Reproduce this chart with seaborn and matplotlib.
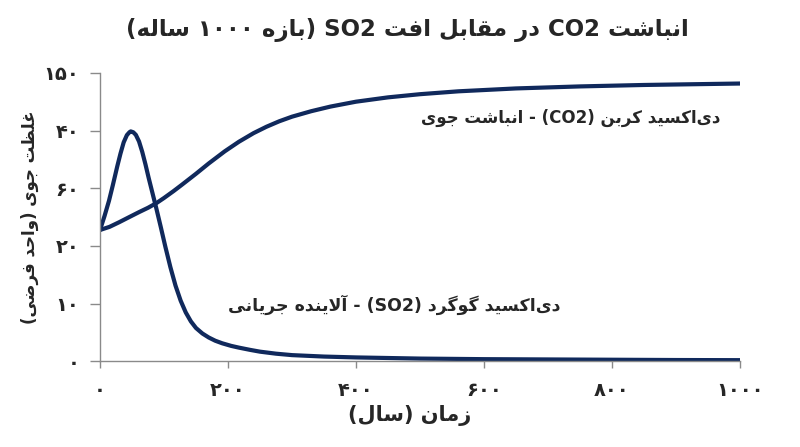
import matplotlib
matplotlib.use('Agg')
import matplotlib.pyplot as plt
import seaborn as sns

# داده‌ها (خوانده شده از روی نمودار)
co2_years = [0, 15, 30, 45, 61, 75, 88, 100, 115, 128, 150, 170, 195, 217, 240,
             260, 280, 300, 330, 360, 400, 450, 500, 560, 650, 750, 850, 1000]
co2_values = [45.5, 46.6, 48.2, 49.9, 51.7, 53.2, 54.8, 56.6, 59.0, 61.2, 65.0,
              68.6, 72.8, 76.1, 79.1, 81.3, 83.2, 84.8, 86.7, 88.3, 90.0, 91.5,
              92.6, 93.6, 94.6, 95.3, 95.8, 96.3]

so2_years = [0, 7, 14, 20, 27, 32, 37, 42, 46, 48, 52, 56, 61, 66, 71, 76, 82,
             88, 95, 102, 110, 118, 126, 134, 142, 150, 160, 170, 180, 191, 205,
             217, 235, 250, 275, 300, 350, 400, 500, 600, 700, 800, 900, 1000]
so2_values = [45.5, 50.3, 55.6, 61.0, 67.6, 72.0, 75.9, 78.4, 79.4, 79.7, 79.4,
              78.5, 76.2, 72.6, 68.3, 63.6, 58.3, 53.0, 46.5, 39.8, 32.6, 26.2,
              21.0, 16.9, 13.8, 11.5, 9.6, 8.2, 7.1, 6.2, 5.3, 4.7, 3.9, 3.3, 2.6,
              2.1, 1.6, 1.3, 0.9, 0.7, 0.6, 0.5, 0.4, 0.35]

x_ticks = [0, 200, 400, 600, 800, 1000]
x_tick_labels = ['۰', '۲۰۰', '۴۰۰', '۶۰۰', '۸۰۰', '۱۰۰۰']
y_ticks = [0, 20, 40, 60, 80, 100]
y_tick_labels = ['۰', '۱۰', '۲۰', '۶۰', '۴۰', '۱۵۰']

title_text = 'انباشت CO2 در مقابل افت SO2 (بازه ۱۰۰۰ ساله)'
x_label = 'زمان (سال)'
y_label = 'غلظت جوی (واحد فرضی)'
co2_label = 'دی\u200cاکسید کربن (CO2) - انباشت جوی'
so2_label = 'دی\u200cاکسید گوگرد (SO2) - آلاینده جریانی'

# شکل‌دهی حروف فارسی (matplotlib خودش این کار را نمی‌کند)
FORMS = {
    'آ': (0xFE81, 0xFE82), 'ا': (0xFE8D, 0xFE8E),
    'ب': (0xFE8F, 0xFE90, 0xFE91, 0xFE92), 'پ': (0xFB56, 0xFB57, 0xFB58, 0xFB59),
    'ت': (0xFE95, 0xFE96, 0xFE97, 0xFE98), 'ج': (0xFE9D, 0xFE9E, 0xFE9F, 0xFEA0),
    'ح': (0xFEA1, 0xFEA2, 0xFEA3, 0xFEA4), 'د': (0xFEA9, 0xFEAA),
    'ر': (0xFEAD, 0xFEAE), 'ز': (0xFEAF, 0xFEB0),
    'س': (0xFEB1, 0xFEB2, 0xFEB3, 0xFEB4), 'ش': (0xFEB5, 0xFEB6, 0xFEB7, 0xFEB8),
    'ض': (0xFEBD, 0xFEBE, 0xFEBF, 0xFEC0), 'ظ': (0xFEC5, 0xFEC6, 0xFEC7, 0xFEC8),
    'غ': (0xFECD, 0xFECE, 0xFECF, 0xFED0), 'ف': (0xFED1, 0xFED2, 0xFED3, 0xFED4),
    'ق': (0xFED5, 0xFED6, 0xFED7, 0xFED8), 'ک': (0xFB8E, 0xFB8F, 0xFB90, 0xFB91),
    'گ': (0xFB92, 0xFB93, 0xFB94, 0xFB95), 'ل': (0xFEDD, 0xFEDE, 0xFEDF, 0xFEE0),
    'م': (0xFEE1, 0xFEE2, 0xFEE3, 0xFEE4), 'ن': (0xFEE5, 0xFEE6, 0xFEE7, 0xFEE8),
    'ه': (0xFEE9, 0xFEEA, 0xFEEB, 0xFEEC), 'و': (0xFEED, 0xFEEE),
    'ی': (0xFBFC, 0xFBFD, 0xFBFE, 0xFBFF),
}
LAM_ALEF = {'ا': (0xFEFB, 0xFEFC), 'آ': (0xFEF5, 0xFEF6)}


def joins_left(c):
    return c in FORMS and len(FORMS[c]) == 4


def shape(text):
    res = []
    i, n = 0, len(text)
    while i < n:
        c = text[i]
        if c == '\u200c':
            i += 1
            continue
        if c not in FORMS:
            res.append(c)
            i += 1
            continue
        prev_join = i > 0 and joins_left(text[i - 1])
        if c == 'ل' and i + 1 < n and text[i + 1] in LAM_ALEF:
            lig = LAM_ALEF[text[i + 1]]
            res.append(chr(lig[1] if prev_join else lig[0]))
            i += 2
            continue
        next_join = joins_left(c) and i + 1 < n and text[i + 1] in FORMS
        f = FORMS[c]
        if prev_join and next_join:
            g = f[3]
        elif prev_join:
            g = f[1]
        elif next_join:
            g = f[2]
        else:
            g = f[0]
        res.append(chr(g))
        i += 1
    return ''.join(res)


def rtl(text):
    s = shape(text)
    runs = []
    for c in s:
        is_l = (c.isascii() and c.isalnum()) or ('\u06f0' <= c <= '\u06f9')
        if runs and runs[-1][0] == is_l:
            runs[-1][1].append(c)
        else:
            runs.append((is_l, [c]))
    mirror = {'(': ')', ')': '('}
    parts = []
    for is_l, cs in reversed(runs):
        if is_l:
            parts.append(''.join(cs))
        else:
            parts.append(''.join(mirror.get(c, c) for c in reversed(cs)))
    return ''.join(parts)


sns.set_style('white')
plt.rcParams['font.family'] = ['DejaVu Sans']
plt.rcParams['font.weight'] = 'bold'

line_color = '#10295c'

fig = plt.figure(figsize=(8, 4.47), dpi=100)
ax = fig.add_axes([0.125, 0.192, 0.8, 0.645])

sns.lineplot(x=co2_years, y=co2_values, color=line_color, linewidth=3.0,
             solid_joinstyle='round', solid_capstyle='round', ax=ax)
sns.lineplot(x=so2_years, y=so2_values, color=line_color, linewidth=3.0,
             solid_joinstyle='round', solid_capstyle='round', ax=ax)

ax.set_xlim(0, 1000)
ax.set_ylim(0, 100)
ax.set_xticks(x_ticks)
ax.set_xticklabels(x_tick_labels, fontsize=14, fontweight='bold')
ax.set_yticks(y_ticks)
ax.set_yticklabels(y_tick_labels, fontsize=14, fontweight='bold')
ax.tick_params(axis='y', direction='out', length=7, width=1, color='#8a8a8a', pad=8, left=True)
ax.tick_params(axis='x', direction='out', length=5, width=1, color='#8a8a8a', pad=9, bottom=True)

for side in ['top', 'right']:
    ax.spines[side].set_visible(False)
for side in ['left', 'bottom']:
    ax.spines[side].set_color('#8a8a8a')
    ax.spines[side].set_linewidth(1)

ax.set_xlabel(rtl(x_label), fontsize=15, fontweight='bold')
ax.xaxis.set_label_coords(0.484, -0.19)
ax.xaxis.label.set_va('center')
ax.set_ylabel(rtl(y_label), fontsize=12, fontweight='bold')
ax.yaxis.set_label_coords(-0.109, 0.5)
ax.yaxis.label.set_va('center')

ax.text(969, 84.5, rtl(co2_label), fontsize=12, fontweight='bold', ha='right', va='center')
ax.text(719, 19.5, rtl(so2_label), fontsize=12.5, fontweight='bold', ha='right', va='center')

fig.text(0.509, 0.933, rtl(title_text), fontsize=16.5, fontweight='bold', ha='center', va='center')

fig.savefig('out.png', dpi=100, facecolor='white')
